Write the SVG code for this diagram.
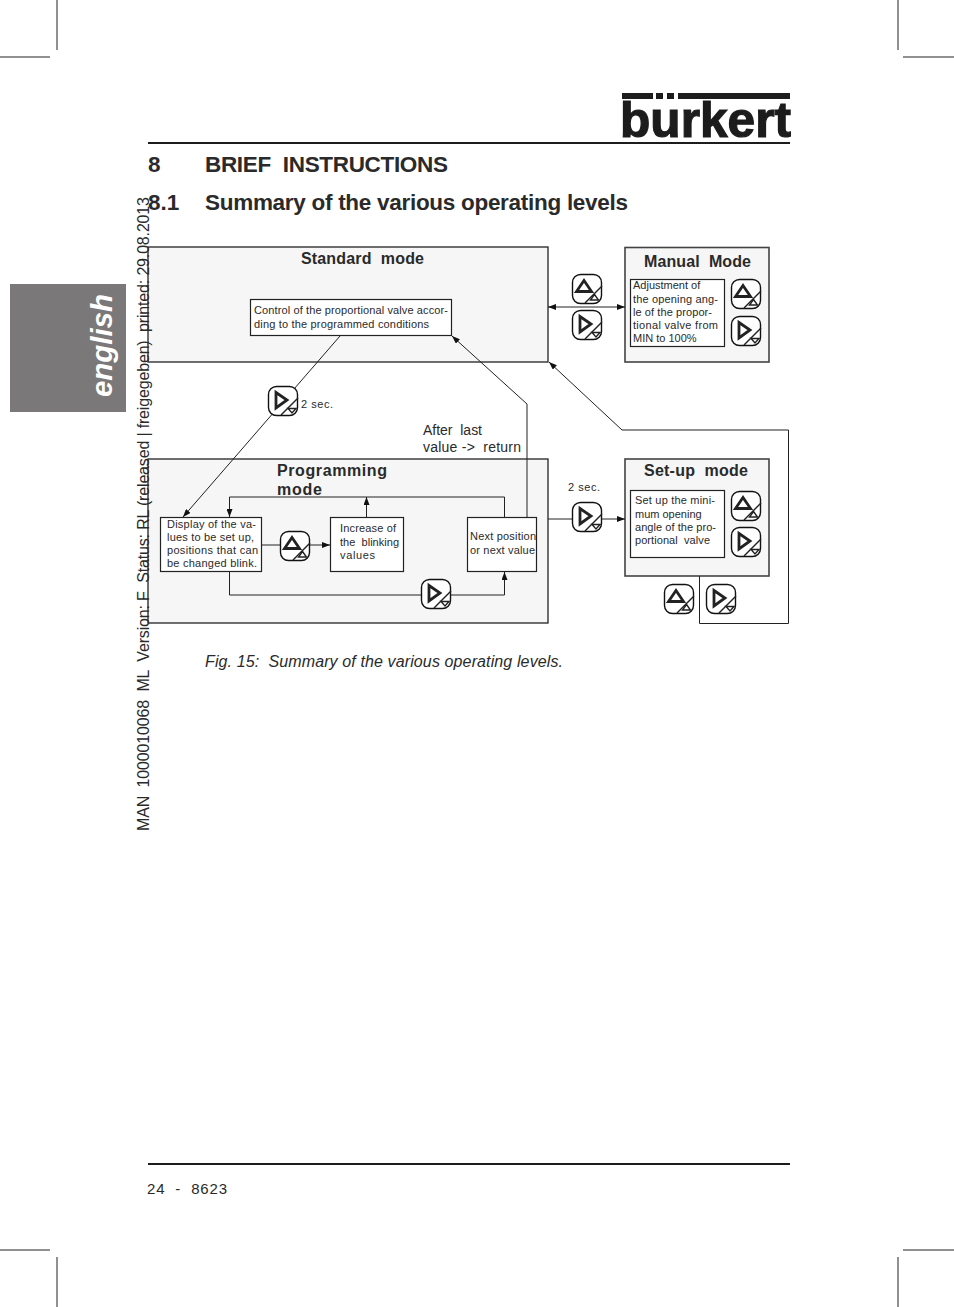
<svg xmlns="http://www.w3.org/2000/svg" xmlns:xlink="http://www.w3.org/1999/xlink" width="954" height="1307" viewBox="0 0 954 1307" xml:space="preserve">
<style>
text{font-family:"Liberation Sans",Arial,sans-serif;fill:#2a2a2a;white-space:pre}
.crop{stroke:#222;stroke-width:1;fill:none}
.panel{fill:#f6f6f6;stroke:#222;stroke-width:1.3}
.modal{fill:#f6f6f6;stroke:#444;stroke-width:1.6}
.box{fill:#fff;stroke:#222;stroke-width:1.2}
.wire{fill:none;stroke:#222;stroke-width:1}
.btn{fill:#fff;stroke:#111;stroke-width:1.4}
.glyph{fill:none;stroke:#222;stroke-width:2.8}
.small{fill:none;stroke:#222;stroke-width:1.4}
.t11{font-size:11px}
.t16{font-size:16px;font-weight:bold}
.h{font-size:22.500px;font-weight:bold}
</style>
<defs>
<marker id="arr" viewBox="0 0 8 6" refX="8" refY="3" markerWidth="8" markerHeight="6" orient="auto-start-reverse" markerUnits="userSpaceOnUse"><path d="M0 0L8 3L0 6Z" fill="#111"/></marker>
<symbol id="up" width="31" height="31" viewBox="0 0 31 31" overflow="visible">
<rect class="btn" x="0.5" y="0.5" width="29" height="29" rx="8"/>
<path class="glyph" d="M12 6.500L19.500 17.500H4.500Z"/><path class="small" d="M30 12L13 29"/><path class="small" d="M22.500 20.500L26.500 26H18.500Z"/>
</symbol>
<symbol id="right" width="31" height="31" viewBox="0 0 31 31" overflow="visible">
<rect class="btn" x="0.5" y="0.5" width="29" height="29" rx="8"/>
<path class="glyph" d="M8 6.500L19 14L8 22Z"/><path class="small" d="M30 12L13 29"/><path class="small" d="M20 22.500H28L24 27Z"/>
</symbol>
</defs>

<g id="crop-marks">
<path class="crop" d="M57 0V50M0 57H50M898 0V50M903 57H954M57 1257V1307M0 1250H50M898 1257V1307M903 1250H954"/>
</g>

<g id="logo">
<rect x="622" y="93" width="31" height="6" fill="#1c1c1c"/><rect x="656" y="93" width="7" height="6" fill="#1c1c1c"/><rect x="667" y="93" width="7" height="6" fill="#1c1c1c"/><rect x="678" y="93" width="112" height="6" fill="#1c1c1c"/>
<text x="620" y="137" font-size="50" font-weight="bold" textLength="171" lengthAdjust="spacingAndGlyphs" style="fill:#1c1c1c;stroke:#1c1c1c;stroke-width:1.2">burkert</text>
</g>
<rect id="rule-top" x="148" y="142" width="642" height="2" fill="#1c1c1c"/>
<rect id="rule-bottom" x="148" y="1163" width="642" height="2" fill="#1c1c1c"/>

<g id="tab"><rect x="10" y="284" width="116" height="128" fill="#7a7878"/>
<text transform="translate(112 397) rotate(-90)" font-size="30" font-weight="bold" font-style="italic" style="fill:#fff" textLength="103" lengthAdjust="spacingAndGlyphs">english</text></g>

<text x="148" y="172" class="h">8</text>
<text x="205" y="172" class="h" textLength="243">BRIEF  INSTRUCTIONS</text>
<text x="148" y="210" class="h">8.1</text>
<text x="205" y="210" class="h" textLength="423">Summary of the various operating levels</text>

<g id="standard-mode"><rect class="panel" x="148" y="247" width="400" height="115"/><text x="301" y="263.500" class="t16" textLength="123">Standard  mode</text></g>
<g id="programming-mode"><rect class="panel" x="148" y="459" width="400" height="164"/><text x="277" y="475.500" class="t16" textLength="110">Programming</text><text x="277" y="494.500" class="t16" textLength="45">mode</text></g>
<g id="manual-mode"><rect class="modal" x="625" y="247.500" width="144" height="114.500"/><text x="644" y="266.500" class="t16" textLength="107">Manual  Mode</text></g>
<g id="setup-mode"><rect class="modal" x="625" y="459" width="144" height="117"/><text x="644" y="475.500" class="t16" textLength="104">Set-up  mode</text></g>

<g id="connectors">
<path class="wire" d="M340 336L183 517" marker-end="url(#arr)"/>
<path class="wire" d="M527 517V404L452 336" marker-end="url(#arr)"/>
<path class="wire" d="M548 307H625" marker-start="url(#arr)" marker-end="url(#arr)"/>
<path class="wire" d="M699.500 576V623.500H788.500V430H622L549 362" marker-end="url(#arr)"/>
<path class="wire" d="M548 519H625" marker-end="url(#arr)"/>
<path class="wire" d="M262 545H330" marker-end="url(#arr)"/>
<path class="wire" d="M366.500 517V497" marker-end="url(#arr)"/>
<path class="wire" d="M504.500 517V497H229.500V517" marker-end="url(#arr)"/>
<path class="wire" d="M229.500 572V595H504.500V572" marker-end="url(#arr)"/>
</g>

<g id="node-control"><rect class="box" x="250.500" y="299.500" width="201" height="36"/><text class="t11" x="254" y="314" textLength="194">Control of the proportional valve accor-</text><text class="t11" x="254" y="328" textLength="175">ding to the programmed conditions</text></g>
<g id="node-adjust"><rect class="box" x="630.500" y="279.500" width="94" height="67"/><text class="t11" x="633" y="289">Adjustment of</text><text class="t11" x="633" y="303" textLength="85">the opening ang-</text><text class="t11" x="633" y="316" textLength="79">le of the propor-</text><text class="t11" x="633" y="329" textLength="85">tional valve from</text><text class="t11" x="633" y="342">MIN to 100%</text></g>
<g id="node-setup"><rect class="box" x="630.500" y="490.500" width="94" height="67"/><text class="t11" x="635" y="504" textLength="80">Set up the mini-</text><text class="t11" x="635" y="518">mum opening</text><text class="t11" x="635" y="531" textLength="81">angle of the pro-</text><text class="t11" x="635" y="544" textLength="75">portional  valve</text></g>
<g id="node-display"><rect class="box" x="160.500" y="517.500" width="101" height="54"/><text class="t11" x="167" y="528" textLength="89">Display of the va-</text><text class="t11" x="167" y="541" textLength="87">lues to be set up,</text><text class="t11" x="167" y="554" textLength="91">positions that can</text><text class="t11" x="167" y="567" textLength="90">be changed blink.</text></g>
<g id="node-increase"><rect class="box" x="330.500" y="517.500" width="73" height="54"/><text class="t11" x="340" y="532" textLength="56">Increase of</text><text class="t11" x="340" y="546" textLength="59">the  blinking</text><text class="t11" x="340" y="559" textLength="35">values</text></g>
<g id="node-next"><rect class="box" x="467.500" y="517.500" width="69" height="54"/><text class="t11" x="470" y="540" textLength="66">Next position</text><text class="t11" x="470" y="554" textLength="65">or next value</text></g>

<g id="buttons">
<use href="#up" x="572" y="274"/><use href="#right" x="572" y="310"/>
<use href="#up" x="731" y="279"/><use href="#right" x="731" y="316"/>
<use href="#up" x="731" y="491"/><use href="#right" x="731" y="527"/>
<use href="#up" x="664" y="584"/><use href="#right" x="706" y="584"/>
<use href="#up" x="280" y="531"/><use href="#right" x="421" y="579"/>
<use href="#right" x="268" y="386"/><use href="#right" x="572" y="502"/>
</g>

<text class="t11" x="301" y="408" textLength="32">2 sec.</text>
<text class="t11" x="568" y="491" textLength="32">2 sec.</text>
<text x="423" y="435" font-size="14" textLength="59">After  last</text>
<text x="423" y="452" font-size="14" textLength="98">value -&gt;  return</text>
<text x="205" y="667" font-size="16" font-style="italic" textLength="358">Fig. 15:  Summary of the various operating levels.</text>
<text x="147" y="1194" font-size="15" textLength="80">24  -  8623</text>
<text transform="translate(149 831) rotate(-90)" font-size="16" textLength="634">MAN  1000010068  ML  Version: F  Status: RL (released | freigegeben)  printed: 29.08.2013</text>
</svg>
